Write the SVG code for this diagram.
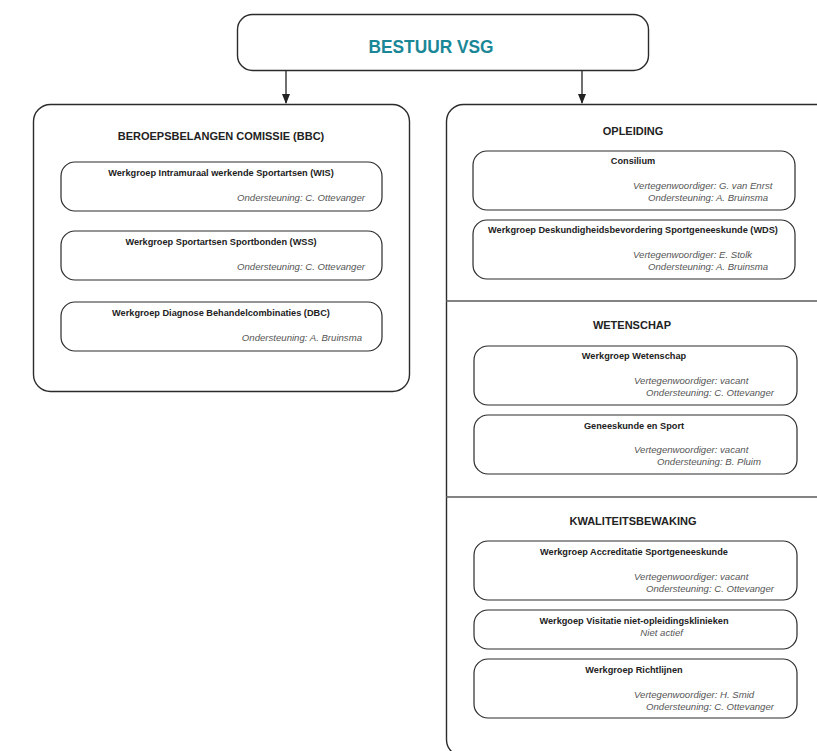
<svg xmlns="http://www.w3.org/2000/svg" width="817" height="751" viewBox="0 0 817 751">
<style>
.panel{fill:#fff;stroke:#2b2b2b;stroke-width:1.4}
.box{fill:#fff;stroke:#2b2b2b;stroke-width:1.2}
.div{stroke:#5a5a5a;stroke-width:1.5}
.main{font-family:"Liberation Sans",Arial,sans-serif;font-weight:bold;font-size:19px;fill:#1a8797;text-anchor:middle}
.head{font-family:"Liberation Sans",Arial,sans-serif;font-weight:bold;font-size:11px;fill:#222;text-anchor:middle}
.t{font-family:"Liberation Sans",Arial,sans-serif;font-weight:bold;font-size:9.2px;fill:#222;text-anchor:middle}
.i{font-family:"Liberation Sans",Arial,sans-serif;font-style:italic;font-size:9.6px;fill:#555}
.conn{stroke:#222;stroke-width:1.3;fill:none}
</style>
<defs>
<marker id="ah" markerWidth="10" markerHeight="8" refX="9" refY="4" orient="auto" markerUnits="userSpaceOnUse">
<path d="M0,0 L10,4 L0,8 Z" fill="#222"/>
</marker>
</defs>

<g id="connectors">
<line class="conn" x1="286" y1="70" x2="286" y2="103" marker-end="url(#ah)"/>
<line class="conn" x1="582" y1="70" x2="582" y2="103" marker-end="url(#ah)"/>
</g>

<g id="bestuur">
<rect class="panel" x="237.5" y="14.5" width="411" height="56" rx="15"/>
<text class="main" x="431" y="53" textLength="125" lengthAdjust="spacingAndGlyphs">BESTUUR VSG</text>
</g>

<g id="bbc">
<rect class="panel" x="33.5" y="104.5" width="376" height="287" rx="17"/>
<text class="head" x="221" y="140">BEROEPSBELANGEN COMISSIE (BBC)</text>
</g>
<g id="wis">
<rect class="box" x="61" y="162" width="321" height="49" rx="14"/>
<text class="t" x="221" y="176">Werkgroep Intramuraal werkende Sportartsen (WIS)</text>
<text class="i" x="365" y="201" text-anchor="end">Ondersteuning: C. Ottevanger</text>
</g>
<g id="wss">
<rect class="box" x="61" y="231" width="321" height="49" rx="14"/>
<text class="t" x="221" y="245">Werkgroep Sportartsen Sportbonden (WSS)</text>
<text class="i" x="365" y="270" text-anchor="end">Ondersteuning: C. Ottevanger</text>
</g>
<g id="dbc">
<rect class="box" x="61" y="302" width="321" height="49" rx="14"/>
<text class="t" x="221" y="316">Werkgroep Diagnose Behandelcombinaties (DBC)</text>
<text class="i" x="362" y="341" text-anchor="end">Ondersteuning: A. Bruinsma</text>
</g>

<g id="rightpanel">
<rect class="panel" x="446.5" y="104.5" width="386" height="652" rx="17"/>
<line class="div" x1="446" y1="301" x2="817" y2="301"/>
<line class="div" x1="446" y1="497" x2="817" y2="497"/>
</g>

<g id="opleiding">
<text class="head" x="633" y="135">OPLEIDING</text>
</g>
<g id="consilium">
<rect class="box" x="473" y="151" width="322" height="59" rx="14"/>
<text class="t" x="633" y="164">Consilium</text>
<text class="i" x="633" y="189">Vertegenwoordiger: G. van Enrst</text>
<text class="i" x="648" y="201">Ondersteuning: A. Bruinsma</text>
</g>
<g id="wds">
<rect class="box" x="473" y="220" width="322" height="59" rx="14"/>
<text class="t" x="633" y="233">Werkgroep Deskundigheidsbevordering Sportgeneeskunde (WDS)</text>
<text class="i" x="633" y="258">Vertegenwoordiger: E. Stolk</text>
<text class="i" x="648" y="270">Ondersteuning: A. Bruinsma</text>
</g>

<g id="wetenschap">
<text class="head" x="632" y="329">WETENSCHAP</text>
</g>
<g id="wgwetenschap">
<rect class="box" x="474" y="346" width="323" height="59" rx="14"/>
<text class="t" x="634" y="359">Werkgroep Wetenschap</text>
<text class="i" x="634" y="384">Vertegenwoordiger: vacant</text>
<text class="i" x="646" y="396">Ondersteuning: C. Ottevanger</text>
</g>
<g id="geneeskunde">
<rect class="box" x="474" y="415" width="323" height="59" rx="14"/>
<text class="t" x="634" y="429">Geneeskunde en Sport</text>
<text class="i" x="634" y="453">Vertegenwoordiger: vacant</text>
<text class="i" x="657" y="465">Ondersteuning: B. Pluim</text>
</g>

<g id="kwaliteit">
<text class="head" x="633" y="525">KWALITEITSBEWAKING</text>
</g>
<g id="accreditatie">
<rect class="box" x="474" y="541" width="323" height="59" rx="14"/>
<text class="t" x="634" y="555">Werkgroep Accreditatie Sportgeneeskunde</text>
<text class="i" x="634" y="580">Vertegenwoordiger: vacant</text>
<text class="i" x="646" y="592">Ondersteuning: C. Ottevanger</text>
</g>
<g id="visitatie">
<rect class="box" x="474" y="610" width="323" height="39" rx="14"/>
<text class="t" x="634" y="624">Werkgoep Visitatie niet-opleidingsklinieken</text>
<text class="i" x="683" y="636" text-anchor="end">Niet actief</text>
</g>
<g id="richtlijnen">
<rect class="box" x="474" y="659" width="323" height="59" rx="14"/>
<text class="t" x="634" y="673">Werkgroep Richtlijnen</text>
<text class="i" x="634" y="698">Vertegenwoordiger: H. Smid</text>
<text class="i" x="646" y="710">Ondersteuning: C. Ottevanger</text>
</g>
</svg>
